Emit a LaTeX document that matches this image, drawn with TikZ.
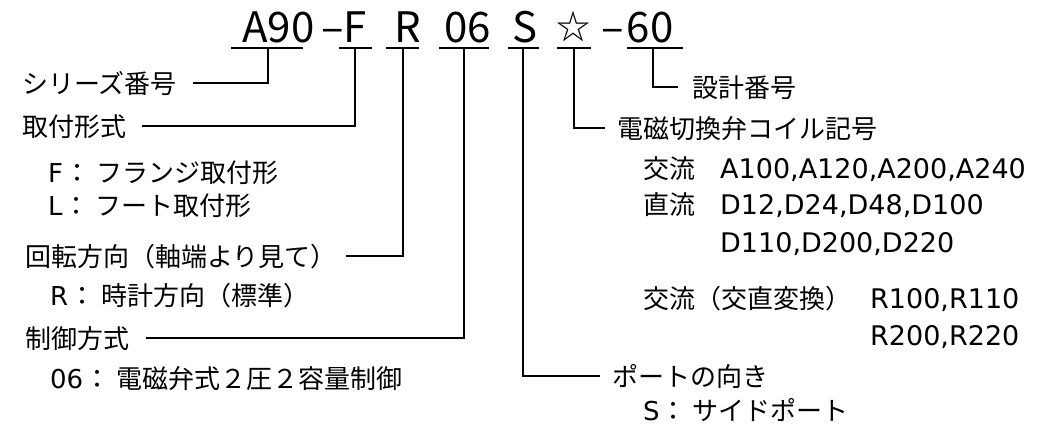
\documentclass[tikz,border=0pt]{standalone}
\usepackage{fontspec}
\setmainfont{Noto Sans CJK JP}
\newfontfamily\jp{Noto Sans CJK JP}
\newfontfamily\lat{DejaVu Sans}
\newcommand{\cln}{\hspace{1pt}：\hspace{6pt}}
\begin{document}
\begin{tikzpicture}[x=1pt,y=-1pt,
  lbl/.style={anchor=base west, inner sep=0pt, font=\fontsize{26}{26}\selectfont\jp},
  latin/.style={anchor=base west, inner sep=0pt, font=\fontsize{27}{27}\selectfont\lat},
  code/.style={anchor=base west, inner sep=0pt, font=\fontsize{42}{42}\selectfont\jp},
  ln/.style={line width=1.6pt, line cap=butt, line join=miter}]
\useasboundingbox (0,0) rectangle (1058,431);

% ---- code string ----
\node[code] (cA) at (242,42) {A90};
\node[code] (cF) at (321,42) {–F};
\node[code] (cR) at (394,42) {R};
\node[code] (c06) at (444,42) {06};
\node[code] (cS) at (512,42) {S};
\node[code, font=\fontsize{34}{34}\selectfont\jp] (cStar) at (556,39) {☆};
\node[code] (c60) at (601,42) {–\hspace{3pt}60};

% underline end points and stems
\coordinate (uA1) at (231,48);  \coordinate (uA2) at (303,48);  \coordinate (vA) at (268,48);
\coordinate (uF1) at (339,48);  \coordinate (uF2) at (372,48);  \coordinate (vF) at (355,48);
\coordinate (uR1) at (386,48);  \coordinate (uR2) at (419,48);  \coordinate (vR) at (403,48);
\coordinate (u61) at (439,48);  \coordinate (u62) at (489,48);  \coordinate (v6) at (464,48);
\coordinate (uS1) at (508,48);  \coordinate (uS2) at (539,48);  \coordinate (vS) at (523,48);
\coordinate (uT1) at (557,48);  \coordinate (uT2) at (591,48);  \coordinate (vT) at (574,48);
\coordinate (uD1) at (627,48);  \coordinate (uD2) at (683,48);  \coordinate (vD) at (653,48);

\foreach \a/\b in {uA1/uA2,uF1/uF2,uR1/uR2,u61/u62,uS1/uS2,uT1/uT2,uD1/uD2}
  \draw[ln] (\a) -- (\b);

% ---- left labels ----
\node[lbl] (series) at (22,93) {シリーズ番号};
\node[lbl] (mount) at (22,136) {取付形式};
\node[lbl] (mountF) at (48,182) {{\lat F}\cln フランジ取付形};
\node[lbl] (mountL) at (48,215) {{\lat L}\cln フート取付形};
\node[lbl] (rot) at (25,266) {回転方向（軸端より見て）};
\node[lbl] (rotR) at (50,305) {{\lat R}\cln 時計方向（標準）};
\node[lbl] (ctrl) at (25,348) {制御方式};
\node[lbl] (ctrl06) at (50,388) {{\lat 06}\cln 電磁弁式２圧２容量制御};

% ---- right labels ----
\node[lbl] (design) at (692,97) {設計番号};
\node[lbl] (coil) at (617,138) {電磁切換弁コイル記号};
\node[lbl] (ac) at (643,178) {交流};
\node[latin] (acv) at (720,178) {A100,A120,A200,A240};
\node[lbl] (dc) at (643,214) {直流};
\node[latin] (dcv1) at (720,214) {D12,D24,D48,D100};
\node[latin] (dcv2) at (720,252) {D110,D200,D220};
\node[lbl] (acdc) at (643,308) {交流（交直変換）};
\node[latin] (acdcv1) at (870,308) {R100,R110};
\node[latin] (acdcv2) at (870,345) {R200,R220};
\node[lbl] (port) at (612,386) {ポートの向き};
\node[lbl] (portS) at (643,420) {{\lat S}\cln サイドポート};

% ---- connectors ----
\draw[ln] (vA) |- ([xshift=16pt]series.east);
\draw[ln] (vF) |- ([xshift=16pt]mount.east);
\draw[ln] (vR) |- ([xshift=9pt]rot.east);
\draw[ln] (v6) |- ([xshift=17pt]ctrl.east);
\draw[ln] (vS) |- ([xshift=-12pt]port.west);
\draw[ln] (vT) |- ([xshift=-12pt]coil.west);
\draw[ln] (vD) |- ([xshift=-14pt]design.west);
\end{tikzpicture}
\end{document}
